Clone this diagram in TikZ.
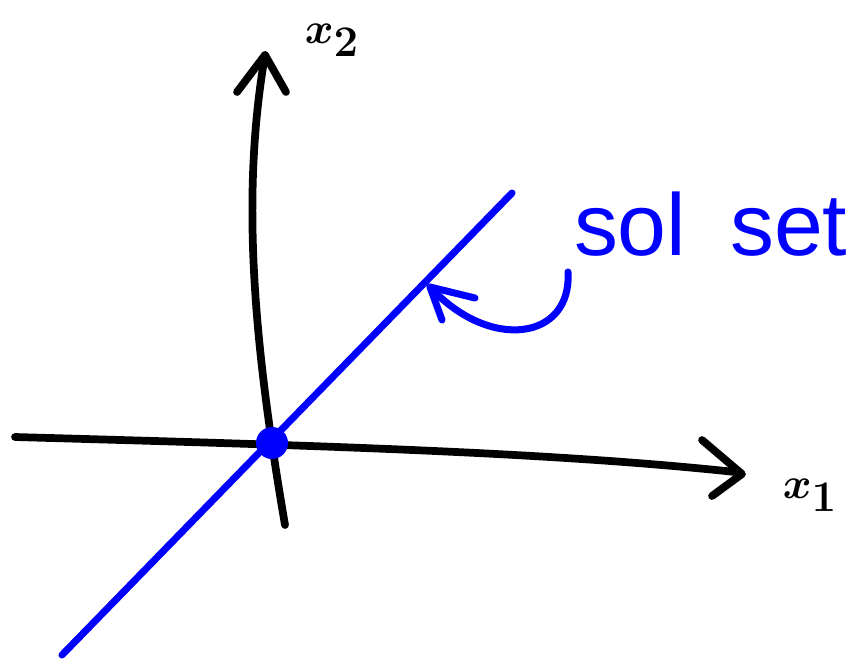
\documentclass[tikz,border=0pt]{standalone}
\usepackage{fontspec}
\newfontfamily\handfont{Liberation Sans}
\definecolor{penblue}{RGB}{0,0,255}
\begin{document}
\begin{tikzpicture}[x=0.02cm,y=-0.02cm,line cap=round,line join=round,
  ink/.style={line width=4.4pt,black},
  blueink/.style={line width=4pt,penblue},
  axislabel/.style={font=\fontsize{46}{52}\selectfont\boldmath},
  every node/.style={inner sep=0pt,outer sep=0pt}]
  \useasboundingbox (0,0) rectangle (854,660);
  \coordinate (O) at (272,443);
  \coordinate (Xend) at (735,472); \coordinate (Yend) at (265,55);
  \coordinate (Lbot) at (62,655); \coordinate (Ltop) at (512,193);
  \coordinate (Ctail) at (568,272); \coordinate (Ctip) at (430,287);
  % axes
  \draw[ink] (15,437) .. controls (300,445) and (550,452) .. (Xend);
  \draw[ink] (702,440) -- (742,474) -- (712,496);
  \draw[ink] (285,525) .. controls (255,350) and (240,200) .. (Yend);
  \draw[ink] (237,92) -- (Yend) -- (286,92);
  \node[axislabel] (xtwo) at (332,40) {$x_2$};
  \node[axislabel] (xone) at (810,495) {$x_1$};
  % solution set
  \draw[blueink] (Lbot) -- (Ltop);
  \fill[penblue] (O) circle (16);
  \draw[blueink] (Ctail) .. controls (572,340) and (490,352) .. (Ctip);
  \draw[blueink] (475,298) -- (Ctip) -- (442,320);
  \node[penblue,font=\handfont\fontsize{50}{56}\selectfont,anchor=base west] (solset) at (574,255) {sol\hspace{.5em}set};
\end{tikzpicture}
\end{document}
